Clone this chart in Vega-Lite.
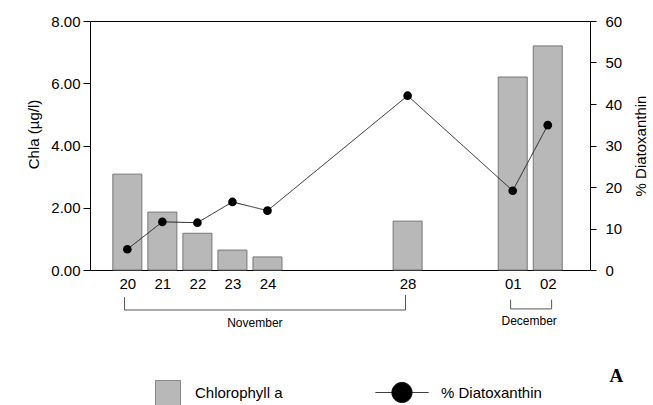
{
  "$schema": "https://vega.github.io/schema/vega-lite/v6.json",
  "width": 500,
  "height": 249,
  "autosize": {"type": "none"},
  "padding": {"left": 90, "top": 21, "right": 63, "bottom": 135},
  "config": {
    "font": "Liberation Sans",
    "view": {"stroke": "black", "strokeWidth": 1},
    "axis": {
      "grid": false,
      "domainColor": "black",
      "tickColor": "black",
      "labelColor": "black",
      "titleColor": "black",
      "labelFont": "Liberation Sans",
      "titleFont": "Liberation Sans",
      "titleFontWeight": "normal",
      "labelFontSize": 15,
      "titleFontSize": 15
    },
    "legend": {"labelFont": "Liberation Sans", "labelColor": "black"}
  },
  "datasets": {
    "obs": [
      {"day": 20, "chla": 3.08, "diato": 5.0},
      {"day": 21, "chla": 1.86, "diato": 11.6},
      {"day": 22, "chla": 1.18, "diato": 11.4},
      {"day": 23, "chla": 0.64, "diato": 16.4},
      {"day": 24, "chla": 0.42, "diato": 14.3},
      {"day": 28, "chla": 1.57, "diato": 42.0},
      {"day": 31, "chla": 6.2, "diato": 19.1},
      {"day": 32, "chla": 7.2, "diato": 34.9}
    ],
    "brackets": [
      {"x": 19.92, "x2": 19.92, "y": -0.87, "y2": -1.285},
      {"x": 19.92, "x2": 27.94, "y": -1.285, "y2": -1.285},
      {"x": 27.94, "x2": 27.94, "y": -0.8, "y2": -1.285},
      {"x": 30.94, "x2": 30.94, "y": -0.95, "y2": -1.25},
      {"x": 30.94, "x2": 32.11, "y": -1.25, "y2": -1.25},
      {"x": 32.11, "x2": 32.11, "y": -0.95, "y2": -1.25}
    ],
    "months": [
      {"x": 23.64, "y": -1.7, "label": "November"},
      {"x": 31.47, "y": -1.64, "label": "December"}
    ],
    "panel": [
      {"x": 33.96, "y": -3.41, "label": "A"}
    ]
  },
  "layer": [
    {
      "layer": [
        {
          "data": {"name": "obs"},
          "mark": {"type": "bar", "size": 29, "stroke": "#777", "strokeWidth": 1},
          "encoding": {
            "x": {
              "field": "day",
              "type": "quantitative",
              "scale": {"domain": [19.077, 33.063], "nice": false, "zero": false},
              "axis": {
                "values": [20, 21, 22, 23, 24, 28, 31, 32],
                "labelExpr": "datum.value == 31 ? '01' : datum.value == 32 ? '02' : format(datum.value, 'd')",
                "ticks": false,
                "tickSize": 0,
                "labelPadding": 6,
                "title": null
              }
            },
            "y": {
              "field": "chla",
              "type": "quantitative",
              "scale": {"domain": [0, 8], "nice": false},
              "axis": {
                "values": [0, 2, 4, 6, 8],
                "format": ".2f",
                "title": "Chla (µg/l)",
                "tickSize": 7,
                "labelPadding": 3,
                "titlePadding": 9,
                "titleY": 113
              }
            },
            "fill": {
              "datum": "Chlorophyll a",
              "scale": {"range": ["#b8b8b8"]},
              "legend": {
                "title": null,
                "orient": "none",
                "legendX": 65,
                "legendY": 359,
                "padding": 0,
                "symbolType": "square",
                "symbolSize": 625,
                "symbolStrokeColor": "#888",
                "symbolStrokeWidth": 1,
                "labelFontSize": 15,
                "labelOffset": 14
              }
            }
          }
        },
        {
          "data": {"name": "brackets"},
          "mark": {"type": "rule", "color": "#555", "strokeWidth": 1},
          "encoding": {
            "x": {"field": "x", "type": "quantitative", "title": null},
            "x2": {"field": "x2"},
            "y": {"field": "y", "type": "quantitative", "title": "Chla (µg/l)"},
            "y2": {"field": "y2"}
          }
        },
        {
          "data": {"name": "months"},
          "mark": {"type": "text", "fontSize": 12, "color": "black", "baseline": "middle", "align": "center", "font": "Liberation Sans"},
          "encoding": {
            "x": {"field": "x", "type": "quantitative", "title": null},
            "y": {"field": "y", "type": "quantitative", "title": "Chla (µg/l)"},
            "text": {"field": "label"}
          }
        },
        {
          "data": {"name": "panel"},
          "mark": {"type": "text", "fontSize": 19, "fontWeight": "bold", "font": "Liberation Serif", "color": "black", "baseline": "middle", "align": "center"},
          "encoding": {
            "x": {"field": "x", "type": "quantitative", "title": null},
            "y": {"field": "y", "type": "quantitative", "title": "Chla (µg/l)"},
            "text": {"field": "label"}
          }
        }
      ]
    },
    {
      "layer": [
        {
          "data": {"name": "obs"},
          "mark": {"type": "line", "color": "#222", "strokeWidth": 1},
          "encoding": {
            "x": {"field": "day", "type": "quantitative", "title": null},
            "y": {
              "field": "diato",
              "type": "quantitative",
              "scale": {"domain": [0, 60], "nice": false},
              "axis": {
                "orient": "right",
                "values": [0, 10, 20, 30, 40, 50, 60],
                "title": "% Diatoxanthin",
                "titleAngle": 270,
                "titleBaseline": "top",
                "tickSize": 6,
                "labelPadding": 9,
                "titlePadding": 12
              }
            },
            "strokeDash": {
              "datum": "% Diatoxanthin",
              "scale": {"range": [[1, 0]]},
              "legend": {
                "title": null,
                "orient": "none",
                "legendX": 285,
                "legendY": 344.5,
                "padding": 0,
                "symbolType": "M-1,0H1M0.38,0A0.38,0.38,0,1,1,-0.38,0A0.38,0.38,0,1,1,0.38,0Z",
                "symbolSize": 2809,
                "symbolFillColor": "black",
                "symbolStrokeColor": "black",
                "symbolStrokeWidth": 1,
                "labelFontSize": 15,
                "labelOffset": 12,
                "encode": {
                  "symbols": {
                    "update": {
                      "fill": {"value": "black"},
                      "stroke": {"value": "black"},
                      "strokeWidth": {"value": 1}
                    }
                  }
                }
              }
            }
          }
        },
        {
          "data": {"name": "obs"},
          "mark": {"type": "point", "filled": true, "color": "black", "size": 75, "opacity": 1},
          "encoding": {
            "x": {"field": "day", "type": "quantitative", "title": null},
            "y": {"field": "diato", "type": "quantitative"}
          }
        }
      ]
    }
  ],
  "resolve": {"scale": {"y": "independent"}}
}
